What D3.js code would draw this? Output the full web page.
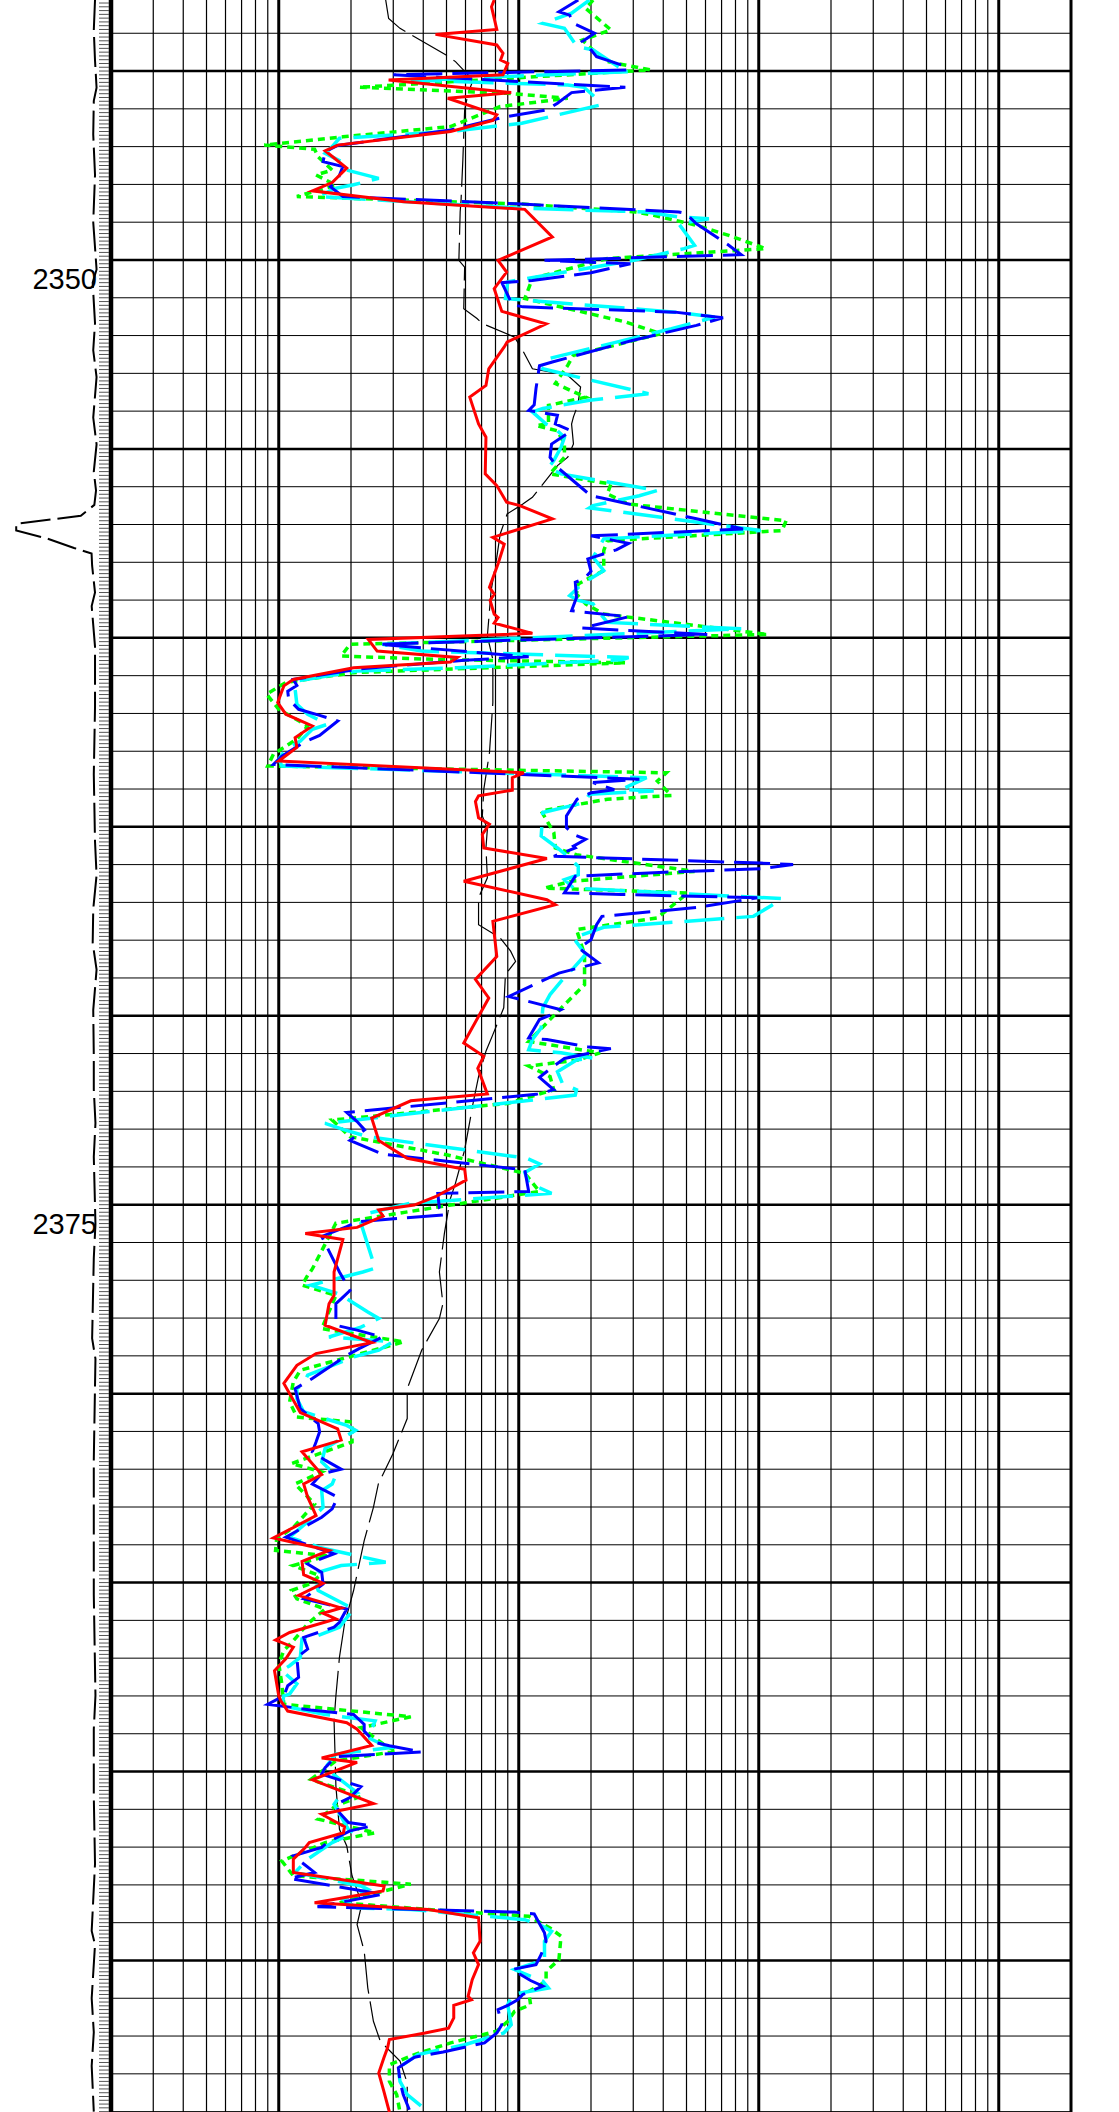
<!DOCTYPE html>
<html><head><meta charset="utf-8">
<script src="https://cdn.jsdelivr.net/npm/d3@7"></script>
<style>body{margin:0;background:#fff}svg{display:block}</style>
</head><body>
<svg id="c" width="1119" height="2112"></svg>
<script>
// ---- data ----
const depthRange = [2343.12, 2399.01];
const resRange = [0.2, 2000];
const depthLabels = [2350, 2375];

const redLog = [[2343.12,7.9],[2343.30,7.7],[2343.90,8.1],[2344.03,4.5],[2344.31,8.1],[2344.53,8.6],[2344.71,8.4],[2344.80,9.0],[2345.10,8.6],[2345.24,2.87],[2345.57,9.3],[2345.72,5.06],[2346.16,8.1],[2346.31,7.8],[2346.60,5.2],[2346.96,1.76],[2347.11,1.56],[2347.57,1.92],[2347.95,1.67],[2348.17,1.38],[2348.46,3.32],[2348.66,10.6],
[2349.39,13.8],[2350.01,8.2],[2350.32,8.9],[2350.76,7.9],[2351.36,8.5],[2351.69,13.0],[2352.17,8.95],[2352.30,8.7],[2352.88,7.5],[2353.32,7.3],[2353.63,6.25],[2354.34,6.8],
[2354.69,7.3],[2355.66,7.25],[2355.97,8.1],[2356.41,8.9],[2356.50,10.1],[2356.85,13.8],[2357.34,7.8],[2357.52,8.7],[2358.04,8.2],[2358.66,7.55],[2358.84,7.9],[2359.01,7.6],[2359.37,7.9],[2359.46,8.2],[2359.61,7.9],[2359.88,11.4],
[2360.04,2.36],[2360.35,2.57],[2360.52,5.55],[2360.64,5.2],[2360.79,2.05],[2361.10,1.15],[2361.27,1.05],[2361.71,0.99],[2362.02,1.07],[2362.33,1.38],[2362.64,1.17],[2362.90,1.19],[2363.26,1.0],[2363.57,10.5],[2363.70,9.4],[2364.03,9.4],[2364.18,6.8],[2364.33,6.6],[2364.76,6.8],[2364.93,7.55],[2365.20,7.05],[2365.56,7.15],
[2365.84,13.1],[2366.44,5.9],[2366.93,13.1],[2367.06,14.2],[2367.50,7.8],[2368.43,8.1],[2369.04,6.6],[2369.53,7.5],[2370.72,5.9],[2371.07,7.15],
[2371.39,6.75],[2372.07,7.4],[2372.25,3.55],[2372.71,2.44],[2373.30,2.61],[2373.77,3.43],[2374.06,5.95],[2374.35,6.03],[2374.79,4.5],[2375.01,3.67],[2375.14,2.61],[2375.30,2.72],[2375.60,2.12],[2375.76,1.29],[2375.92,1.85],[2376.78,1.70],
[2377.40,1.70],[2377.62,1.62],[2378.19,1.56],[2378.65,2.44],[2378.94,1.43],[2379.25,1.19],[2379.73,1.05],[2380.50,1.23],[2380.93,1.76],[2381.23,1.82],[2381.54,1.25],[2382.14,1.51],[2382.39,1.27],
[2382.74,1.32],[2383.23,1.43],[2383.82,0.95],[2384.15,1.62],[2384.44,1.25],[2384.79,1.27],[2385.02,1.53],[2385.34,1.21],[2385.67,1.82],[2385.81,1.53],[2385.96,1.73],[2386.32,1.11],[2386.52,0.97],[2386.71,1.15],[2387.02,1.07],[2387.33,0.96],[2388.00,1.0],
[2388.13,1.02],[2388.40,1.09],[2388.71,1.92],[2388.88,2.12],[2389.31,2.44],[2389.64,1.51],[2389.76,2.12],[2390.22,1.38],[2390.85,2.48],[2391.13,1.51],[2391.46,1.88],[2391.62,1.86],[2391.88,1.34],[2392.01,1.29],[2392.32,1.15],[2392.67,1.15],[2393.03,2.75],[2393.16,2.72],[2393.47,1.41],
[2393.65,4.2],[2393.87,6.8],[2394.49,6.9],[2394.80,6.47],[2395.11,6.8],[2395.51,6.4],[2395.95,6.15],[2396.04,6.35],[2396.19,5.36],[2396.52,5.36],[2396.79,5.1],[2396.92,4.07],[2397.09,2.89],[2397.31,2.84],[2397.58,2.74],[2397.98,2.61],[2398.46,2.74],[2399.01,2.89]];

const blueLog = [[2343.12,17.7],[2343.43,14.7],[2343.52,16.3],[2343.74,16.9],[2344.00,20.7],[2344.22,18.4],[2344.44,20.0],[2344.62,21.1],[2344.84,26.8],[2344.97,28.5],[2345.10,3.0],[2345.43,27.8],[2345.57,16.6],[2345.85,14.5],[2346.03,13.1],[2346.21,8.8],[2346.56,5.2],[2346.97,1.76],[2347.13,1.56],[2347.40,1.53],[2347.53,1.85],[2347.88,1.76],[2348.06,1.64],[2348.32,1.85],[2348.52,10.3],[2348.73,46.4],
[2348.77,49.7],[2349.04,55],[2349.61,75],[2349.86,84.5],[2350.01,12.8],[2350.10,29.2],[2350.34,20.0],[2350.54,11.4],[2350.60,8.5],[2351.18,9.4],[2351.24,10.4],[2351.38,44.8],[2351.53,71],[2351.73,55],[2352.13,29.7],[2352.70,13.8],[2352.80,12.2],[2353.40,11.8],[2353.83,11.6],[2353.98,11.0],[2354.11,14.5],[2354.34,14.2],
[2354.52,16.6],[2354.87,13.7],[2355.22,13.5],[2355.49,14.5],[2356.24,20.0],[2356.30,22.2],[2356.85,55],[2357.12,86],[2357.30,20.0],[2357.50,28.7],[2357.67,25.5],[2357.91,19.4],[2358.24,20],[2358.44,18.7],[2358.53,17.2],[2358.93,17.4],[2359.28,16.6],[2359.32,18.7],[2359.44,28.7],[2359.74,18.4],[2359.91,61],
[2360.17,2.61],[2360.50,11.0],[2360.59,5.95],[2360.83,2.12],[2361.10,1.15],[2361.26,1.19],[2361.41,1.09],[2361.63,1.10],[2361.89,1.21],[2362.05,1.48],[2362.20,1.76],[2362.58,1.48],[2362.77,1.27],[2363.13,1.03],[2363.35,0.95],[2363.74,31.8],[2363.83,20.4],[2364.02,25],[2364.10,20],[2364.27,17.5],[2364.71,15.8],[2365.02,15.8],[2365.20,16.9],[2365.33,19.0],[2365.51,16.9],
[2365.56,17.2],[2365.78,14.0],[2365.96,102],[2366.00,139],[2366.11,102],[2366.20,40.5],[2366.31,17.2],[2366.75,15.5],[2366.79,26.8],[2366.88,98.6],[2367.13,56],[2367.37,22.2],[2367.59,21.1],[2367.99,20.0],[2368.21,17.8],[2368.60,21.5],[2368.87,14.7],[2369.49,9.1],[2369.84,15.0],[2369.97,13.7],[2370.10,12.2],[2370.59,11.0],[2370.63,13.1],[2370.83,19.6],[2370.87,24.2],[2371.13,15.5],
[2371.33,14.0],[2371.63,12.2],[2371.96,14.0],[2372.08,11.8],[2372.56,1.92],[2372.80,2.12],[2373.02,2.28],[2373.30,1.98],[2373.66,2.70],[2374.08,10.6],[2374.65,11.0],[2374.70,4.6],[2375.09,4.67],[2375.27,4.92],[2375.45,2.12],[2375.58,1.92],[2375.84,1.51],[2376.78,1.79],
[2377.27,1.98],[2377.49,1.82],[2377.62,1.73],[2378.19,1.73],[2378.32,2.12],[2378.50,2.70],[2378.81,2.16],[2378.99,1.92],[2379.60,1.38],[2379.87,1.17],[2380.40,1.23],[2380.79,1.46],[2381.01,1.48],[2381.28,1.43],[2381.54,1.38],[2381.76,1.56],[2382.00,1.82],[2382.12,1.51],[2382.39,1.38],
[2382.74,1.76],[2383.05,1.67],[2383.27,1.51],[2383.80,1.07],[2384.24,1.70],[2384.51,1.32],[2384.73,1.51],[2385.04,1.53],[2385.43,1.27],[2385.70,1.92],[2386.05,1.79],[2386.18,1.70],[2386.45,1.27],[2386.76,1.32],[2386.98,1.19],[2387.51,1.21],[2387.73,1.09],[2388.00,1.05],
[2388.22,0.90],[2388.37,1.36],[2388.49,2.05],[2388.75,2.27],[2388.93,2.27],[2389.23,2.52],[2389.32,2.89],[2389.48,3.94],[2389.61,1.73],[2389.90,1.56],[2390.07,1.51],[2390.40,2.20],[2390.69,1.98],[2390.87,1.73],[2391.09,1.79],[2391.35,1.95],[2391.44,2.44],[2391.57,1.98],[2391.88,1.59],[2392.01,1.51],[2392.23,1.15],[2392.67,1.41],[2392.83,1.11],[2393.25,2.70],[2393.58,1.45],
[2393.72,9.6],[2393.77,11.6],[2394.27,12.8],[2394.49,13.0],[2394.84,12.4],[2395.11,11.8],[2395.24,9.4],[2395.53,11.2],[2395.68,12.6],[2395.90,10.4],[2396.04,9.9],[2396.19,9.0],[2396.30,8.2],[2396.70,8.5],[2396.92,8.1],[2397.18,7.2],[2397.42,4.84],[2397.56,3.68],[2397.84,3.15],[2398.20,3.2],[2398.55,3.3],[2398.95,3.5]];

const cyanLog = [[2343.12,19.7],[2343.47,16.6],[2343.74,12.6],[2343.87,15.5],[2344.35,17.5],[2344.44,20.4],[2344.88,25.9],[2345.02,28.7],[2345.24,3.55],[2345.37,16.0],[2345.43,18.7],[2345.68,20.7],[2345.90,21.8],[2346.38,10.3],[2346.60,5.2],[2346.78,1.79],[2347.00,1.67],[2347.18,1.56],[2347.44,1.88],[2347.62,1.92],[2347.84,2.61],[2348.01,2.05],[2348.10,1.73],[2348.32,1.46],[2348.63,10.3],[2348.73,34.1],
[2348.86,46.4],[2348.91,62],[2349.04,46.4],[2349.61,54],[2349.70,48.9],[2350.01,30.2],[2350.58,9.0],[2351.02,8.8],[2351.38,44.8],[2351.51,65.6],[2351.82,43.3],[2352.61,13.3],[2352.88,12.6],[2353.54,34.7],[2353.71,19.7],[2353.93,12.6],[2354.02,11.4],[2354.34,13.0],
[2354.43,14.0],[2354.69,15.5],[2354.96,15.0],[2355.31,14.0],[2355.49,13.3],[2355.66,15.0],[2356.10,37.8],[2356.24,31.8],[2356.50,20.4],[2356.56,19.7],[2357.16,102],[2357.25,53],[2357.38,22.6],[2357.87,20.4],[2358.22,22.6],[2358.57,18.4],[2358.88,16.3],[2359.01,17.7],[2359.10,20.4],[2359.41,22.2],[2359.59,23.4],[2359.76,84.5],
[2360.17,2.70],[2360.35,3.94],[2360.52,28.7],[2360.58,26.8],[2360.79,5.55],[2360.88,2.12],[2361.14,1.19],[2361.36,1.17],[2361.76,1.19],[2362.02,1.32],[2362.29,1.59],[2362.42,1.38],[2362.73,1.23],[2362.95,1.07],[2363.21,1.0],[2363.39,1.03],[2363.70,34.1],[2364.01,26.8],[2364.05,36.5],[2364.14,19.7],[2364.36,18.8],[2364.62,12.6],[2365.24,12.4],[2365.56,14.5],
[2365.82,16.3],[2366.05,17.7],[2366.27,17.7],[2366.40,15.5],[2366.62,16.9],[2366.90,125],[2367.08,113],[2367.37,95],[2367.66,22.6],[2367.94,16.9],[2368.38,19.0],[2368.74,16.9],[2369.09,15.0],[2369.44,13.5],[2369.79,12.6],[2370.32,12.4],[2370.63,11.4],[2370.90,11.0],[2370.98,15.0],[2371.12,20.4],
[2371.17,17.4],[2371.48,14.5],[2371.79,15.2],[2371.96,17.4],[2372.10,17.2],[2372.85,1.56],[2373.02,1.88],[2373.20,2.35],[2373.77,10.8],[2373.92,12.2],[2374.15,10.6],[2374.42,11.0],[2374.70,13.7],[2374.96,3.55],[2375.23,2.35],[2375.49,2.2],[2376.68,2.52],
[2376.78,2.24],[2377.13,1.36],[2377.35,1.76],[2377.49,1.92],[2377.84,2.35],[2378.01,2.61],[2378.24,2.2],[2378.50,1.62],[2378.63,2.99],[2378.85,2.61],[2379.03,2.05],[2379.51,1.32],[2379.73,1.27],[2379.87,1.19],[2380.13,1.19],[2380.48,1.27],[2380.84,1.92],[2380.97,2.09],[2381.45,1.56],[2381.81,1.51],[2382.16,1.73],
[2382.39,1.67],[2382.57,1.51],[2383.01,1.53],[2383.32,1.36],[2383.80,1.11],[2384.07,1.48],[2384.46,2.79],[2384.55,1.82],[2384.73,1.46],[2385.04,1.43],[2385.21,1.46],[2385.70,2.05],[2386.18,1.79],[2386.40,1.46],[2386.49,1.25],[2386.98,1.23],[2387.20,1.11],[2387.33,1.03],[2387.68,1.19],[2387.95,1.11],
[2388.00,1.05],[2388.26,1.03],[2388.49,1.56],[2388.66,2.52],[2389.10,2.35],[2389.37,2.89],[2389.54,1.73],[2389.90,1.56],[2390.56,2.12],[2390.73,1.76],[2390.87,1.70],[2391.53,1.95],[2391.62,2.05],[2391.88,1.67],[2392.32,1.32],[2392.67,1.17],[2393.03,2.2],[2393.12,2.35],[2393.38,1.85],[2393.61,2.12],
[2393.65,3.55],[2393.92,10.6],[2394.10,12.6],[2394.23,13.7],[2394.49,12.8],[2394.98,12.8],[2395.24,9.6],[2395.55,12.6],[2395.73,13.3],[2395.90,9.4],[2396.17,9.0],[2396.70,9.3],[2396.92,8.66],[2397.23,5.95],[2397.49,3.8],[2397.84,3.15],[2398.20,3.2],[2398.55,3.43],[2399.01,4.2]];

const greenLog = [[2343.12,20.4],[2343.34,19.0],[2343.91,24.2],[2344.18,18.4],[2344.53,21.1],[2344.75,23.4],[2344.97,35.3],[2345.43,2.16],[2345.59,9.0],[2345.72,16.0],[2345.94,8.37],[2346.47,5.2],[2346.74,1.85],[2346.96,0.87],[2347.07,1.41],[2347.27,1.46],[2347.62,1.67],[2347.75,1.43],[2348.02,1.73],[2348.32,1.19],[2348.52,10.3],[2348.73,30.7],
[2348.82,36.5],[2349.08,55],[2349.35,75],[2349.70,107],[2349.96,23.4],[2350.49,11.4],[2351.02,10.6],[2351.64,27.8],[2351.95,39],[2352.26,25],[2352.52,16.9],[2352.79,16.0],[2353.27,14.2],[2353.63,19.0],[2353.85,13.3],[2354.34,13.3],
[2354.38,11.8],[2354.52,14.5],[2354.87,15.5],[2355.22,15.5],[2355.66,13.5],[2355.93,24.2],[2356.19,23.4],[2356.46,28.7],[2356.90,130],[2357.16,125],[2357.43,23.4],[2357.69,22.6],[2358.22,22.6],[2358.57,17.7],[2358.84,17.4],[2359.10,19.0],[2359.37,22.6],[2359.91,109],
[2360.17,1.98],[2360.48,1.82],[2360.57,4.5],[2360.66,27.8],[2360.92,2.05],[2361.18,1.07],[2361.49,0.89],[2361.89,1.0],[2362.33,1.32],[2362.68,1.19],[2363.08,0.95],[2363.39,0.90],[2363.57,41.2],[2363.79,37.8],[2364.17,43.3],[2364.27,23.4],[2364.58,12.4],[2365.15,14.0],[2365.56,14.2],
[2365.74,17.4],[2366.18,54],[2366.44,16.6],[2366.62,12.8],[2366.75,50.6],[2367.41,37.8],[2367.63,21.8],[2367.72,17.4],[2368.38,18.8],[2369.18,18.8],[2369.62,16.0],[2370.68,11.0],[2370.98,21.8],
[2371.17,17.7],[2371.33,11.0],[2371.61,13.5],[2371.96,14.0],[2372.32,9.0],[2372.76,1.67],[2373.20,1.98],[2373.68,5.0],[2374.17,10.6],[2374.65,12.2],[2375.01,5.2],[2375.49,1.73],[2376.70,1.38],
[2376.87,1.32],[2377.13,1.25],[2377.40,1.73],[2378.28,1.51],[2378.63,3.32],[2379.38,1.23],[2379.69,1.15],[2380.22,1.11],[2380.62,1.19],[2380.75,2.02],[2381.28,2.02],[2381.85,1.13],[2382.07,1.51],[2382.39,1.17],
[2382.92,1.41],[2383.54,1.15],[2383.85,0.98],[2384.15,0.97],[2384.29,1.59],[2384.55,1.15],[2384.82,1.48],[2385.04,1.34],[2385.21,1.13],[2385.43,1.19],[2385.70,1.56],[2386.09,1.32],[2386.54,1.15],[2386.80,1.05],[2387.15,1.0],[2387.68,1.03],
[2388.22,1.05],[2388.55,3.55],[2388.84,2.2],[2389.32,2.79],[2389.46,3.1],[2389.72,1.73],[2390.21,1.36],[2390.65,2.2],[2390.91,1.73],[2391.26,1.46],[2391.62,2.52],[2391.88,1.56],[2392.37,1.03],[2392.76,1.15],[2392.98,3.55],[2393.47,1.79],
[2393.65,4.2],[2393.83,11.0],[2394.14,13.5],[2394.36,15.0],[2394.98,14.7],[2395.29,13.0],[2395.55,13.0],[2395.82,11.0],[2396.17,11.2],[2396.35,9.6],[2396.61,9.0],[2396.87,8.1],[2397.18,5.2],[2397.49,3.68],[2397.76,2.89],[2398.20,2.89],[2398.55,3.1],[2399.01,3.2]];

const blackLog = [[2343.12,2.79],[2343.61,2.87],[2343.87,3.2],[2344.58,5.0],[2344.75,5.45],[2345.24,6.45],[2345.59,6.15],[2346.03,5.95],[2347.35,5.85],[2348.41,5.75],[2348.73,5.7],[2350.01,5.63],[2350.19,5.95],[2351.29,5.9],[2351.55,6.7],[2351.68,7.05],[2352.04,9.6],[2352.35,10.3],[2352.88,11.4],[2353.05,16.0],[2353.36,18.1],[2353.85,17.6],[2354.15,16.9],[2354.34,16.6],[2354.87,16.9],[2355.22,16.0],[2355.44,14.5],[2356.28,11.4],[2356.46,10.4],[2356.72,8.95],[2357.25,8.37],[2357.87,8.1],[2358.75,7.67],[2359.95,7.4],[2360.57,7.8],[2361.71,7.8],[2363.04,7.55],[2364.01,7.15],[2364.71,7.05],[2365.06,7.4],[2365.56,7.3],[2366.35,7.4],[2366.88,6.8],[2367.59,6.8],[2367.94,8.37],[2368.29,9.25],[2368.56,9.7],[2368.91,8.8],[2369.79,8.66],[2370.50,7.8],[2370.94,7.3],[2371.61,6.8],[2372.32,6.45],[2373.55,5.95],[2374.43,5.45],[2374.87,5.17],[2375.76,4.9],[2376.78,4.67],[2377.62,4.83],[2378.01,4.67],[2378.85,3.94],[2379.87,3.43],[2380.66,3.43],[2381.59,2.99],[2382.39,2.6],[2383.01,2.48],[2383.89,2.27],[2385.21,2.05],[2386.09,1.88],[2386.98,1.79],[2388.00,1.73],[2388.66,1.70],[2389.76,1.72],[2390.38,1.73],[2391.53,1.79],[2391.97,1.92],[2392.76,2.02],[2393.29,2.16],[2393.61,2.2],[2394.05,2.12],[2394.75,2.27],[2395.73,2.35],[2396.61,2.48],[2397.14,2.65],[2397.66,3.2],[2398.24,3.43],[2399.01,3.43]];

// curve in the depth track (arbitrary linear units 0-100)
const depthTrackCurve = [[2343.12,85.6],[2343.92,84.5],[2344.72,85.6],[2345.44,87],[2345.79,84.5],[2346.68,84],[2347.75,85.6],[2349.0,84],[2350.25,87],[2350.6,83.5],[2351.67,85.6],[2352.39,84],[2353.1,87],[2354.17,84],[2354.88,87],[2355.6,84.5],[2356.1,86.5],[2356.48,85],[2356.77,72.8],[2356.98,14.6],[2357.16,14.6],[2357.37,42.3],[2357.62,66.7],[2357.77,82.5],[2358.09,83],[2358.8,85.6],[2359.16,82.6],[2360.23,85.6],[2361.83,85.6],[2363.61,84.5],[2365.39,85.6],[2366.28,87],[2367.18,84],[2368.07,83.5],[2368.78,87],[2369.85,84],[2371.06,84.5],[2371.95,84.5],[2372.84,86],[2373.73,84.5],[2375.51,86],[2376.41,84.5],[2378.54,83],[2379.08,86],[2381.75,84.5],[2385.32,84.5],[2387.99,86],[2388.88,84.5],[2390.66,84.5],[2392.44,85.6],[2394.22,82.6],[2394.58,85.6],[2396.0,82.6],[2396.9,84.5],[2397.79,82.6],[2399.0,84.5]];

// ---- drawing ----
const W = 1119, H = 2112;
const trackL = 111, trackR = 1071;
const svg = d3.select('#c');
const y = d3.scaleLinear().domain(depthRange).range([0, H]);
const x = d3.scaleLog().domain(resRange).range([trackL, trackR]);
const xd = d3.scaleLinear().domain([0, 100]).range([0, trackL]);

// vertical log grid
const vticks = [];
[0.1, 1, 10, 100, 1000].forEach(dec => {
  for (let m = 1; m <= 9; m++) {
    const v = dec * m;
    if (v > resRange[0] && v < resRange[1]) vticks.push({v, bold: m === 1});
  }
});
const g = svg.append('g');
g.selectAll('line.v').data(vticks).join('line')
  .attr('x1', d => x(d.v)).attr('x2', d => x(d.v))
  .attr('y1', 0).attr('y2', H)
  .attr('stroke', '#000').attr('stroke-width', d => d.bold ? 3 : 1.2);

// horizontal depth grid
const hd = d3.range(Math.ceil(depthRange[0]), Math.floor(depthRange[1]) + 1);
g.selectAll('line.h').data(hd).join('line')
  .attr('x1', trackL).attr('x2', trackR)
  .attr('y1', d => y(d)).attr('y2', d => y(d))
  .attr('stroke', '#000').attr('stroke-width', d => d % 5 === 0 ? 2.5 : 1);

// track borders
g.append('line').attr('x1', trackL).attr('x2', trackL).attr('y1', 0).attr('y2', H).attr('stroke', '#000').attr('stroke-width', 4.5);
g.append('line').attr('x1', trackR).attr('x2', trackR).attr('y1', 0).attr('y2', H).attr('stroke', '#000').attr('stroke-width', 3);

// depth ruler ticks
const rt = d3.range(Math.ceil(depthRange[0] * 10), Math.floor(depthRange[1] * 10) + 1).map(d => d / 10);
g.selectAll('line.r').data(rt).join('line')
  .attr('x1', 99).attr('x2', 109)
  .attr('y1', d => y(d)).attr('y2', d => y(d))
  .attr('stroke', '#555').attr('stroke-width', 1);

// depth labels
svg.selectAll('text.dl').data(depthLabels).join('text')
  .attr('x', 97).attr('y', d => y(d) + 29)
  .attr('text-anchor', 'end')
  .attr('font-family', 'Liberation Sans, Arial, sans-serif')
  .attr('font-size', 29)
  .text(d => d);

// depth track curve
const lineD = d3.line().x(d => xd(d[1])).y(d => y(d[0]));
svg.append('path').datum(depthTrackCurve).attr('d', lineD)
  .attr('fill', 'none').attr('stroke', '#000').attr('stroke-width', 2)
  .attr('stroke-dasharray', '30,7');

// log curves
const line = d3.line().x(d => x(d[1])).y(d => y(d[0]));
const curves = [
  {data: blackLog, color: '#000', w: 1.2, dash: '40,8'},
  {data: greenLog, color: '#00ff00', w: 3.5, dash: '7,5'},
  {data: cyanLog, color: '#00ffff', w: 3.5, dash: '40,12'},
  {data: blueLog, color: '#0000ff', w: 3, dash: '36,10'},
  {data: redLog, color: '#ff0000', w: 3, dash: null}
];
curves.forEach(c => {
  const p = svg.append('path').datum(c.data).attr('d', line)
    .attr('fill', 'none').attr('stroke', c.color).attr('stroke-width', c.w)
    .attr('stroke-linejoin', 'miter');
  if (c.dash) p.attr('stroke-dasharray', c.dash);
});
</script>
</body></html>
